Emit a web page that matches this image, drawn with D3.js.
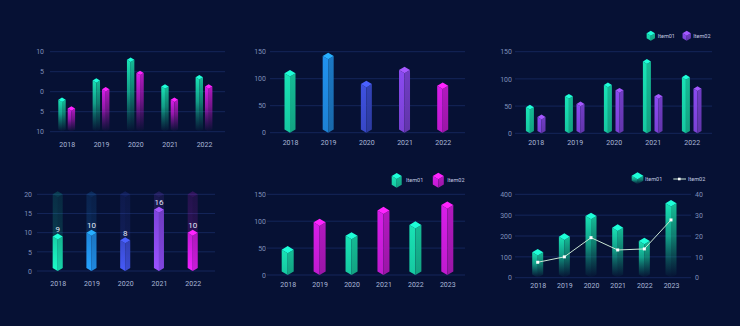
<!DOCTYPE html>
<html><head><meta charset="utf-8">
<script src="https://cdn.jsdelivr.net/npm/d3@7"></script>
<style>html,body{margin:0;padding:0;background:#061134;} svg{display:block;}</style>
</head><body><svg id="c" width="740" height="326"></svg>
<script>
// ---------- data ----------
const years5 = ["2018","2019","2020","2021","2022"];
const years6 = ["2018","2019","2020","2021","2022","2023"];
const legendNames = ["Item01","Item02"];
// panel 1 (two series, fading)
const p1Item01 = [-2, 2.8, 8, 1.3, 3.6];
const p1Item02 = [-4.2, 0.6, 4.7, -2, 1.3];
const p1Ticks = [-10, -5, 0, 5, 10];
const p1TickLabels = ["10","5","0","5","10"];
// panel 2 (one series, per-bar colours)
const p2Values = [110, 142, 90, 116, 87];
const p2Ticks = [0, 50, 100, 150];
// panel 3 (two series)
const p3Item01 = [48, 68, 89, 132, 103];
const p3Item02 = [30, 54, 79, 68, 82];
const p3Ticks = [0, 50, 100, 150];
// panel 4 (progress bars)
const p4Values = [9, 10, 8, 16, 10];
const p4Max = 20;
const p4Ticks = [0, 5, 10, 15, 20];
// panel 5 (alternating series)
const p5Values = [47, 98, 73, 120, 93, 130];
const p5Series = ["Item01","Item02","Item01","Item02","Item01","Item02"];
const p5Ticks = [0, 50, 100, 150];
// panel 6 (bars + line)
const p6Bars = [122, 197, 296, 240, 176, 357];
const p6Line = [7.4, 10, 19.2, 13.3, 13.8, 27.7];
const p6Ticks = [0, 100, 200, 300, 400];
const p6Ticks2 = [0, 10, 20, 30, 40];

// ---------- style ----------
const TEAL = "#19e3b5", BLUE = "#2192ef", INDIGO = "#3e51e0", PURPLE = "#8a4af0", MAGENTA = "#d81ee9";
const seq5 = [TEAL, BLUE, INDIGO, PURPLE, MAGENTA];
const FONT = "Roboto, 'Open Sans', sans-serif";
const TICK_COL = "#7f8fba", CAT_COL = "#aab7d8", GRID_COL = "#14265a";

const svg = d3.select("#c");
svg.append("rect").attr("width",740).attr("height",326).attr("fill","#061134");
const defs = svg.append("defs");
let gid = 0;
function grad(stops){
  const id = "g"+(gid++);
  const lg = defs.append("linearGradient").attr("id",id).attr("x1",0).attr("y1",0).attr("x2",0).attr("y2",1);
  stops.forEach(s=>lg.append("stop").attr("offset",s[0]).attr("stop-color",s[1]).attr("stop-opacity",s[2]===undefined?1:s[2]));
  return `url(#${id})`;
}
const dk = (c,k)=>d3.color(c).darker(k).formatHex();
const br = (c,k)=>d3.color(c).brighter(k).formatHex();
const cache = {};
function fills(color, kind){
  const key = color+kind;
  if (cache[key]) return cache[key];
  let f;
  if (kind==="solid") f = {
    left: grad([[0,color],[1,dk(color,0.35)]]),
    right: grad([[0,dk(color,0.55)],[1,dk(color,0.95)]]),
    top: br(color,0.5)};
  else if (kind==="fade") f = {
    left: grad([[0,color,1],[0.45,dk(color,0.3),0.75],[1,dk(color,0.8),0]]),
    right: grad([[0,dk(color,0.5),1],[0.45,dk(color,0.8),0.7],[1,dk(color,1.1),0]]),
    top: br(color,0.5)};
  else if (kind==="ghost") f = {
    left: grad([[0,color,0.14],[1,color,0.24]]),
    right: grad([[0,dk(color,0.5),0.14],[1,dk(color,0.5),0.24]]),
    top: d3.color(color).copy({opacity:0.2}).formatRgb()};
  else if (kind==="rise") f = {
    left: grad([[0,dk(color,0.25)],[1,br(color,0.3)]]),
    right: grad([[0,dk(color,0.6)],[1,dk(color,0.2)]]),
    top: br(color,0.5)};
  cache[key] = f; return f;
}
function prism(g, cx, w, yTop, yBase, f){
  const h = w/2, d = w*0.3;
  const path = pts => { const p = d3.path(); pts.forEach((q,i)=> i? p.lineTo(q[0],q[1]) : p.moveTo(q[0],q[1])); p.closePath(); return p.toString(); };
  g.append("path").attr("d", path([[cx-h,yTop],[cx,yTop+d],[cx,yBase],[cx-h,yBase-d]])).attr("fill", f.left);
  g.append("path").attr("d", path([[cx,yTop+d],[cx+h,yTop],[cx+h,yBase-d],[cx,yBase]])).attr("fill", f.right);
  g.append("path").attr("d", path([[cx-h,yTop],[cx,yTop-d],[cx+h,yTop],[cx,yTop+d]])).attr("fill", f.top);
}
function gridAndLeft(g, y, ticks, labels, axisX, gx0, gx1){
  g.append("g").selectAll("line").data(ticks).join("line")
    .attr("x1",gx0).attr("x2",gx1).attr("y1",d=>y(d)).attr("y2",d=>y(d))
    .attr("stroke",GRID_COL).attr("stroke-width",1);
  g.append("g").attr("transform",`translate(${axisX},0)`)
    .call(d3.axisLeft(y).tickValues(ticks).tickSize(0).tickPadding(0).tickFormat((d,i)=>labels[i]))
    .call(a=>{a.select(".domain").remove(); a.selectAll("text").attr("fill",TICK_COL).style("font-family",FONT).style("font-size","7px");});
}
function bottomAxis(g, x, labelY){
  g.append("g").attr("transform",`translate(0,${labelY-2.6})`)
    .call(d3.axisBottom(x).tickSize(0).tickPadding(0))
    .call(a=>{a.select(".domain").remove(); a.selectAll("text").attr("fill",CAT_COL).style("font-family",FONT).style("font-size","7px");});
}
function legendText(g, x, y, t){
  g.append("text").attr("x",x).attr("y",y).attr("dy","0.35em").attr("fill","#c3cbe2")
    .style("font-family",FONT).style("font-size","5.5px").text(t);
}

// ---------- panel 1 ----------
{
  const g = svg.append("g");
  const x = d3.scalePoint().domain(years5).range([66.7, 204]);
  const y = d3.scaleLinear().domain([-10,10]).range([131.7, 51.7]);
  gridAndLeft(g, y, p1Ticks, p1TickLabels, 44, 50, 225);
  const w = 7.4;
  years5.forEach((c,i)=>{
    prism(g, x(c)-4.7, w, y(p1Item01[i]), y(-10), fills(TEAL,"fade"));
    prism(g, x(c)+4.7, w, y(p1Item02[i]), y(-10), fills(MAGENTA,"fade"));
  });
  bottomAxis(g, x, 145);
}
// ---------- panel 2 ----------
{
  const g = svg.append("g");
  const x = d3.scalePoint().domain(years5).range([290, 442.7]);
  const y = d3.scaleLinear().domain([0,150]).range([132.7, 51.7]);
  gridAndLeft(g, y, p2Ticks, p2Ticks.map(String), 266, 270, 465);
  years5.forEach((c,i)=> prism(g, x(c), 11, y(p2Values[i]), y(0), fills(seq5[i],"solid")));
  bottomAxis(g, x, 142.7);
}
// ---------- panel 3 ----------
{
  const g = svg.append("g");
  const x = d3.scalePoint().domain(years5).range([535.7, 691.7]);
  const y = d3.scaleLinear().domain([0,150]).range([133.3, 51.7]);
  gridAndLeft(g, y, p3Ticks, p3Ticks.map(String), 512, 515, 712);
  years5.forEach((c,i)=>{
    prism(g, x(c)-5.8, 8, y(p3Item01[i]), y(0), fills(TEAL,"solid"));
    prism(g, x(c)+5.8, 8, y(p3Item02[i]), y(0), fills(PURPLE,"solid"));
  });
  bottomAxis(g, x, 142.7);
  prism(g, 650.8, 8.3, 33.2, 40.7, fills(TEAL,"solid"));
  legendText(g, 657.7, 35.7, legendNames[0]);
  prism(g, 686.7, 8.3, 33.2, 40.7, fills(PURPLE,"solid"));
  legendText(g, 693.3, 35.7, legendNames[1]);
}
// ---------- panel 4 ----------
{
  const g = svg.append("g");
  const x = d3.scalePoint().domain(years5).range([57.7, 192.7]);
  const y = d3.scaleLinear().domain([0,p4Max]).range([271, 194.3]);
  gridAndLeft(g, y, p4Ticks, p4Ticks.map(String), 32, 37, 215);
  years5.forEach((c,i)=>{
    prism(g, x(c), 10, y(p4Max), y(0), fills(seq5[i],"ghost"));
    prism(g, x(c), 10, y(p4Values[i]), y(0), fills(seq5[i],"rise"));
    g.append("text").attr("x",x(c)).attr("y",y(p4Values[i])-4.5).attr("text-anchor","middle")
      .attr("fill","#e2e8f6").style("font-family",FONT).style("font-size","8px").text(p4Values[i]);
  });
  bottomAxis(g, x, 283.3);
}
// ---------- panel 5 ----------
{
  const g = svg.append("g");
  const x = d3.scalePoint().domain(years6).range([287.7, 447.3]);
  const y = d3.scaleLinear().domain([0,150]).range([275, 194.3]);
  const col = d3.scaleOrdinal().domain(legendNames).range([TEAL, MAGENTA]);
  gridAndLeft(g, y, p5Ticks, p5Ticks.map(String), 266, 267, 465);
  years6.forEach((c,i)=> prism(g, x(c), 12, y(p5Values[i]), y(0), fills(col(p5Series[i]),"solid")));
  bottomAxis(g, x, 285);
  prism(g, 396.7, 10, 176, 187.7, fills(TEAL,"solid"));
  legendText(g, 406, 180, legendNames[0]);
  prism(g, 438.3, 11, 176, 187.7, fills(MAGENTA,"solid"));
  legendText(g, 447.3, 180, legendNames[1]);
}
// ---------- panel 6 ----------
{
  const g = svg.append("g");
  const x = d3.scalePoint().domain(years6).range([537.7, 671]);
  const y = d3.scaleLinear().domain([0,400]).range([277.7, 194.3]);
  const y2 = d3.scaleLinear().domain([0,40]).range([277.7, 194.3]);
  gridAndLeft(g, y, p6Ticks, p6Ticks.map(String), 512, 515, 691);
  g.append("g").attr("transform","translate(695,0)")
    .call(d3.axisRight(y2).tickValues(p6Ticks2).tickSize(0).tickPadding(0))
    .call(a=>{a.select(".domain").remove(); a.selectAll("text").attr("fill",TICK_COL).style("font-family",FONT).style("font-size","7px");});
  years6.forEach((c,i)=> prism(g, x(c), 11, y(p6Bars[i]), y(0), fills(TEAL,"fade")));
  const line = d3.line().x((d,i)=>x(years6[i])).y(d=>y2(d));
  g.append("path").datum(p6Line).attr("d",line).attr("fill","none").attr("stroke","#c9e6d4").attr("stroke-width",1);
  g.selectAll("rect.pt").data(p6Line).join("rect").attr("class","pt")
    .attr("x",(d,i)=>x(years6[i])-1.5).attr("y",d=>y2(d)-1.5).attr("width",3).attr("height",3).attr("fill","#ffffff");
  bottomAxis(g, x, 285.7);
  prism(g, 637.5, 11.6, 175.8, 184.3, fills(TEAL,"fade"));
  legendText(g, 645, 179, legendNames[0]);
  g.append("line").attr("x1",673.3).attr("x2",686).attr("y1",179).attr("y2",179).attr("stroke","#c9e6d4").attr("stroke-width",1);
  g.append("rect").attr("x",678).attr("y",177.7).attr("width",2.6).attr("height",2.6).attr("fill","#fff");
  legendText(g, 688, 179, legendNames[1]);
}
</script></body></html>
